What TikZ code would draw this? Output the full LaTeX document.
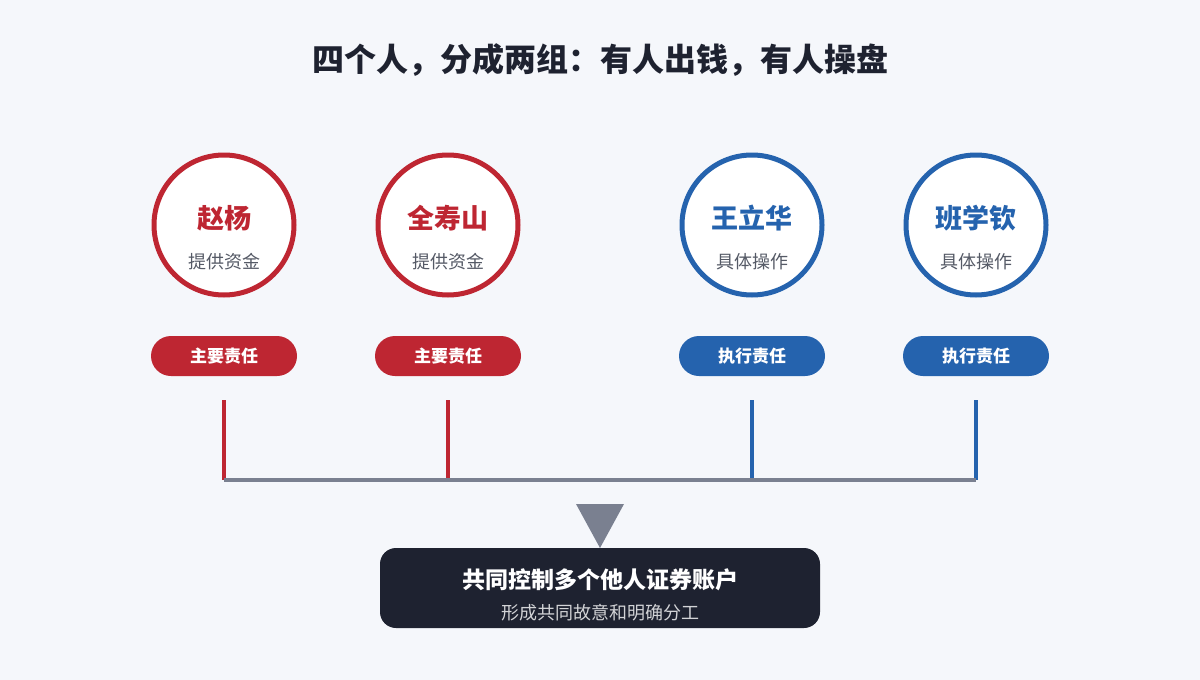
\documentclass[tikz,border=0pt]{standalone}
\usepackage{fontspec}
\setmainfont{Noto Sans CJK SC}
\definecolor{bg}{HTML}{F5F7FB}
\definecolor{rd}{HTML}{BE2632}
\definecolor{bl}{HTML}{2563AE}
\definecolor{dk}{HTML}{1E2230}
\definecolor{gr}{HTML}{7A8090}
\definecolor{tx}{HTML}{555A66}
\begin{document}
\begin{tikzpicture}[x=0.5pt,y=-0.5pt,
  person/.style={circle,draw=#1,line width=2.5pt,fill=white,minimum size=70pt,inner sep=0pt},
  pill/.style={rounded corners=10pt,fill=#1,minimum width=73pt,minimum height=20pt,inner sep=0pt,text=white,font=\fontsize{8.5}{10}\selectfont\bfseries},
  stem/.style={draw=#1,line width=2pt}]
\fill[bg] (0,0) rectangle (1200,680);
\useasboundingbox (0,0) rectangle (1200,680);
\node[font=\fontsize{16}{19}\selectfont\bfseries,text=dk] (title) at (600,60) {四个人，分成两组：有人出钱，有人操盘};
\foreach \n/\x/\c/\nm/\rl/\tg in {a/224/rd/赵杨/提供资金/主要责任, b/448/rd/全寿山/提供资金/主要责任, c/752/bl/王立华/具体操作/执行责任, d/976/bl/班学钦/具体操作/执行责任}{
  \node[person=\c] (\n) at (\x,225) {};
  \node[font=\fontsize{13.5}{16}\selectfont\bfseries,text=\c] (\n nm) at (\x,218) {\nm};
  \node[font=\fontsize{9}{11}\selectfont,text=tx] (\n rl) at (\x,262) {\rl};
  \node[pill=\c] (\n tag) at (\x,356) {\tg};
  \coordinate (\n top) at (\x,400);
  \coordinate (\n bot) at (\x,480);
  \draw[stem=\c] (\n top) -- (\n bot);
}
\draw[draw=gr,line width=2pt] (abot) -- (dbot);
\node[fill=dk,rounded corners=8pt,minimum width=220pt,minimum height=40pt] (box) at (600,588) {};
\coordinate (t1) at (576,504); \coordinate (t2) at (624,504); \coordinate (t3) at (600,548);
\fill[gr] (t1) -- (t2) -- (t3) -- cycle;
\node[text=white,font=\fontsize{11.5}{14}\selectfont\bfseries] (bt) at (600,580) {共同控制多个他人证券账户};
\node[text=white!80!dk,font=\fontsize{9}{11}\selectfont] (bs) at (600,613) {形成共同故意和明确分工};
\end{tikzpicture}
\end{document}
